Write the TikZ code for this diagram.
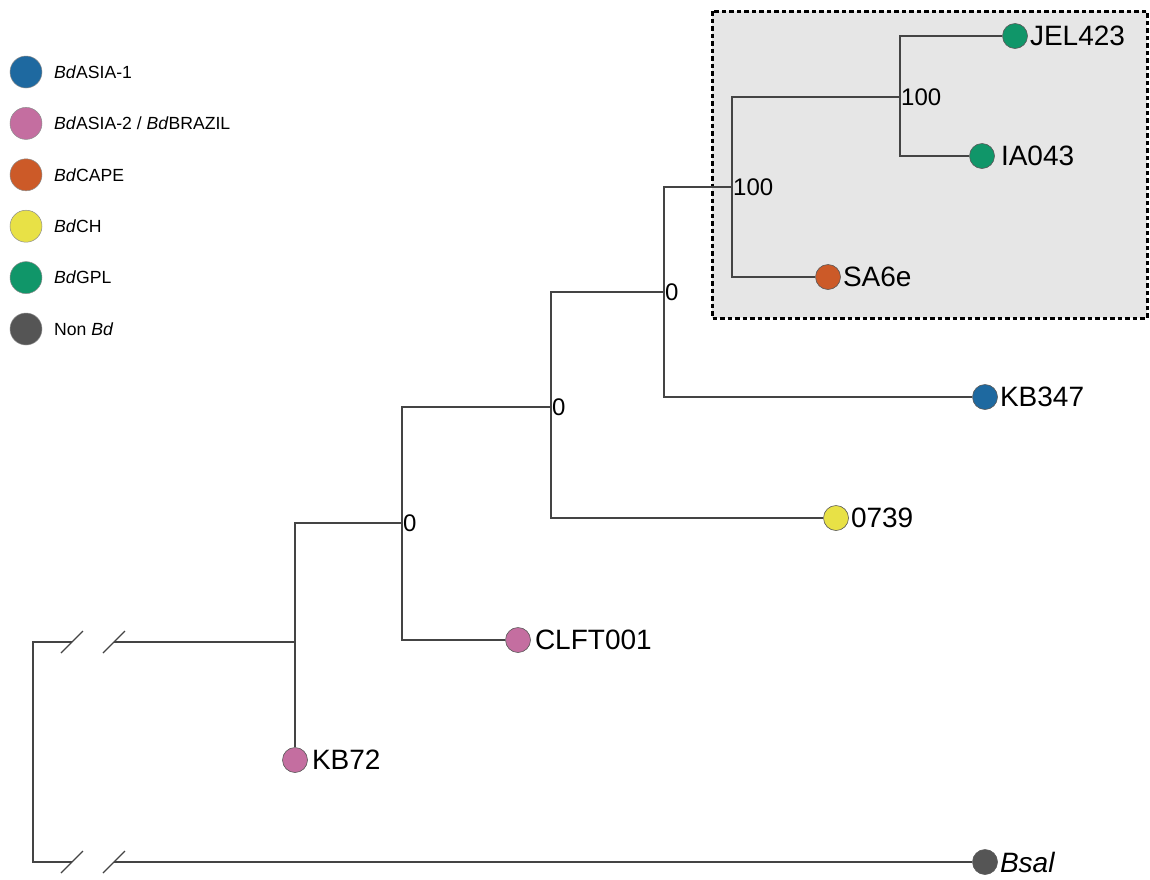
\documentclass[tikz,border=0pt]{standalone}
\usepackage{fontspec}
\setmainfont{Liberation Sans}
\usetikzlibrary{positioning}

\definecolor{asiaone}{HTML}{1E69A0}
\definecolor{asiatwo}{HTML}{C46EA0}
\definecolor{cape}{HTML}{CC5A28}
\definecolor{chyel}{HTML}{E8E146}
\definecolor{gpl}{HTML}{109669}
\definecolor{nonbd}{HTML}{555555}
\definecolor{branch}{HTML}{444444}
\definecolor{boxgray}{HTML}{E6E6E6}

\begin{document}
\begin{tikzpicture}[x=1pt, y=-1pt,
    leaf/.style={circle, draw=black!65, line width=0.6pt, minimum size=25pt, inner sep=0pt},
    legdot/.style={circle, draw=black!45, line width=0.5pt, minimum size=32pt, inner sep=0pt},
    leaftext/.style={inner sep=2pt, font=\fontsize{28}{32}\selectfont},
    legtext/.style={inner sep=1pt, font=\fontsize{17.6}{20}\selectfont},
    support/.style={anchor=west, inner sep=1pt, font=\fontsize{24}{28}\selectfont},
    edge/.style={draw=branch, line width=1.1pt}]
    \useasboundingbox (0,0) rectangle (1150,879);

    % Highlight box
    \draw[fill=boxgray, line width=3pt, dash pattern=on 4.5pt off 3pt] (712,11) rectangle (1147,318);

    % Legend
    \foreach \c/\t [count=\i from 0] in {asiaone/{\textit{Bd}ASIA-1},
        asiatwo/{\textit{Bd}ASIA-2 / \textit{Bd}BRAZIL},
        cape/{\textit{Bd}CAPE}, chyel/{\textit{Bd}CH},
        gpl/{\textit{Bd}GPL}, nonbd/{Non \textit{Bd}}} {
      \node[legdot, fill=\c] (leg\i) at (26,72+51.4*\i) {};
      \node[legtext, anchor=west] (legt\i) at (53,72+51.4*\i) {\t};
    }

    % Internal nodes
    \coordinate (a) at (295,642);
    \coordinate (b) at (402,523);
    \coordinate (c) at (551,407);
    \coordinate (d) at (664,292);
    \coordinate (e) at (732,187);
    \coordinate (f) at (900,97);

    % Leaves
    \node[leaf, fill=gpl] (jel) at (1015,36) {};
    \node[leaf, fill=gpl] (ia) at (982,156) {};
    \node[leaf, fill=cape] (sa) at (828,277) {};
    \node[leaf, fill=asiaone] (kb347) at (985,397) {};
    \node[leaf, fill=chyel] (s0739) at (836,518) {};
    \node[leaf, fill=asiatwo] (clft) at (518,640) {};
    \node[leaf, fill=asiatwo] (kb72) at (295,760) {};
    \node[leaf, fill=nonbd] (bsal) at (985,862) {};

    \node[leaftext, right=0pt of jel] (jelt) {JEL423};
    \node[leaftext, right=4pt of ia] (iat) {IA043};
    \node[leaftext, right=0pt of sa] (sat) {SA6e};
    \node[leaftext, right=0pt of kb347] (kb347t) {KB347};
    \node[leaftext, right=0pt of s0739] (s0739t) {0739};
    \node[leaftext, right=2pt of clft] (clftt) {CLFT001};
    \node[leaftext, right=2pt of kb72] (kb72t) {KB72};
    \node[leaftext, right=0pt of bsal] (bsalt) {\textit{Bsal}};

    % Branches
    \draw[edge] (a) |- (b);
    \draw[edge] (a) -- (kb72);
    \draw[edge] (b) |- (c);
    \draw[edge] (b) |- (clft);
    \draw[edge] (c) |- (d);
    \draw[edge] (c) |- (s0739);
    \draw[edge] (d) |- (e);
    \draw[edge] (d) |- (kb347);
    \draw[edge] (e) |- (f);
    \draw[edge] (e) |- (sa);
    \draw[edge] (f) |- (jel);
    \draw[edge] (f) |- (ia);

    % Support values
    \node[support] (bv) at (b) {0};
    \node[support] (cv) at (c) {0};
    \node[support] (dv) at (d) {0};
    \node[support] (ev) at (e) {100};
    \node[support] (fv) at (f) {100};

    % Root with broken branches
    \coordinate (rt) at (33,642);
    \coordinate (rb) at (33,862);
    \coordinate (t1) at (72,642);
    \coordinate (t2) at (114,642);
    \coordinate (u1) at (72,862);
    \coordinate (u2) at (114,862);
    \draw[edge] (a) -- (t2);
    \draw[edge] (t1) -- (rt) -- (rb) -- (u1);
    \draw[edge] (u2) -- (bsal);
    \foreach \p in {t1,t2,u1,u2}
      \draw[edge] ([shift={(-11,11)}]\p) -- ([shift={(11,-11)}]\p);
\end{tikzpicture}
\end{document}
